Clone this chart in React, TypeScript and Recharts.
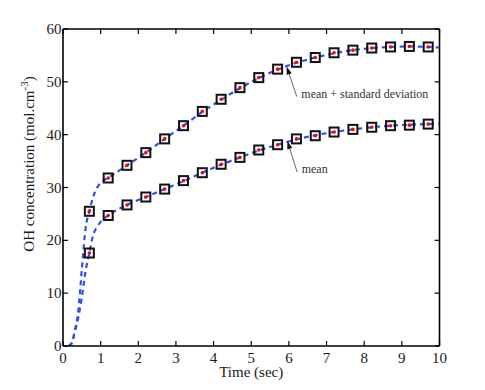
import React from 'react';
import { ComposedChart, Line, Scatter, XAxis, YAxis, ReferenceLine } from 'recharts';

// fitted curves (dashed)
const curveTime = [0.15, 0.25, 0.3, 0.4, 0.5, 0.6, 0.7, 0.8, 0.9, 1.0, 1.2, 1.7, 2.2, 2.7, 3.2, 3.7, 4.2, 4.7, 5.2, 5.7, 6.2, 6.7, 7.2, 7.7, 8.2, 8.7, 9.2, 9.7, 10];
const upperCurve = [0, 0.8, 2.5, 6.2, 14.5, 22.3, 25.5, 28.2, 29.9, 30.9, 31.8, 34.2, 36.6, 39.2, 41.7, 44.3, 46.6, 48.8, 50.7, 52.3, 53.6, 54.6, 55.4, 56.0, 56.4, 56.6, 56.7, 56.6, 56.5];
const meanCurve = [0, 0.7, 2.3, 5.2, 9.2, 14.2, 17.6, 21.0, 22.5, 23.5, 24.7, 26.7, 28.2, 29.7, 31.2, 32.8, 34.3, 35.7, 37.0, 38.1, 39.1, 39.9, 40.5, 41.0, 41.4, 41.7, 41.9, 42.0, 42.1];

// measured points (squares + red dots)
const markerTime = [0.7, 1.2, 1.7, 2.2, 2.7, 3.2, 3.7, 4.2, 4.7, 5.2, 5.7, 6.2, 6.7, 7.2, 7.7, 8.2, 8.7, 9.2, 9.7];
const upperMarkers = [25.5, 31.8, 34.2, 36.6, 39.2, 41.7, 44.4, 46.7, 48.9, 50.8, 52.4, 53.7, 54.6, 55.5, 56.0, 56.4, 56.6, 56.7, 56.6];
const meanMarkers = [17.6, 24.7, 26.7, 28.2, 29.7, 31.3, 32.8, 34.4, 35.7, 37.1, 38.1, 39.2, 39.8, 40.5, 41.0, 41.4, 41.7, 41.8, 42.0];

const xTicks = [0, 1, 2, 3, 4, 5, 6, 7, 8, 9, 10];
const yTicks = [0, 10, 20, 30, 40, 50, 60];

// annotations: tail -> arrow head, in data units
const noteLabels = ['mean + standard deviation', 'mean'];
const noteTail = [{ x: 6.21, y: 47.2 }, { x: 6.22, y: 32.9 }];
const noteHead = [{ x: 5.94, y: 52.9 }, { x: 5.96, y: 38.8 }];

const FONT = '"Liberation Serif", "Times New Roman", serif';
const BLUE = '#2d4cf5';
const X_MAX = 10;
const Y_MAX = 60;
// inward tick length expressed in axis units (~5px)
const X_TICK_LEN = 0.13;
const Y_TICK_LEN = 0.95;

const toRows = (xs: number[], ys: number[]) => xs.map((t, i) => ({ t, v: ys[i] }));

const upperCurveData = toRows(curveTime, upperCurve);
const meanCurveData = toRows(curveTime, meanCurve);
const upperMarkerData = toRows(markerTime, upperMarkers);
const meanMarkerData = toRows(markerTime, meanMarkers);

const SquareDot = (props: any) => {
  const { cx, cy } = props;
  if (cx == null || cy == null) return <g />;
  return (
    <g>
      <rect x={cx - 4.5} y={cy - 4.5} width={9} height={9} fill="none" stroke="#111" strokeWidth={2} />
      <circle cx={cx} cy={cy} r={1.8} fill="#ff0000" />
    </g>
  );
};

const makeArrow = (label: string) => (props: any) => {
  const { x1, y1, x2, y2 } = props;
  const dx = x2 - x1;
  const dy = y2 - y1;
  const len = Math.sqrt(dx * dx + dy * dy) || 1;
  const ux = dx / len;
  const uy = dy / len;
  const bx = x2 - ux * 8;
  const by = y2 - uy * 8;
  const head = `${x2},${y2} ${bx - uy * 2.6},${by + ux * 2.6} ${bx + uy * 2.6},${by - ux * 2.6}`;
  return (
    <g>
      <line x1={x1} y1={y1} x2={bx} y2={by} stroke="#555" strokeWidth={0.9} />
      <polygon points={head} fill="#111" />
      <text x={x1 + 4.5} y={y1 + 1} fontSize={12} fontFamily={FONT} fill="#333">
        {label}
      </text>
    </g>
  );
};

const XTick = (props: any) => (
  <text x={props.x} y={props.y + 16.7} textAnchor="middle" fontSize={15} fontFamily={FONT} fill="#1a1a1a">
    {props.payload.value}
  </text>
);

const YTick = (props: any) => (
  <text x={props.x} y={props.y + 5} textAnchor="end" fontSize={15} fontFamily={FONT} fill="#1a1a1a">
    {props.payload.value}
  </text>
);

const XLabel = (props: any) => {
  const { viewBox } = props;
  return (
    <text x={viewBox.x + viewBox.width / 2} y={viewBox.y + 30.5} textAnchor="middle" fontSize={15} fontFamily={FONT} fill="#1a1a1a">
      Time (sec)
    </text>
  );
};

const YLabel = (props: any) => {
  const { viewBox } = props;
  const x = viewBox.x + 34;
  const y = viewBox.y + viewBox.height / 2 - 23.5;
  return (
    <text x={x} y={y} transform={`rotate(-90, ${x}, ${y})`} textAnchor="middle" fontSize={15} fontFamily={FONT} fill="#1a1a1a">
      OH concentration (mol.cm
      <tspan dy={-6} fontSize={11}>-3</tspan>
      <tspan dy={6}>)</tspan>
    </text>
  );
};

const axisLineStyle = { stroke: '#000', strokeWidth: 1.6 };
const frame = { stroke: '#000', strokeWidth: 1.6 };
const tickMark = { stroke: '#000', strokeWidth: 1.2 };

export default function App() {
  return (
    <div style={{ position: 'absolute', left: 0, top: 0, width: 485, height: 390, background: '#fff', fontFamily: FONT }}>
      <ComposedChart width={485} height={390} margin={{ top: 29, right: 45.5, bottom: 0, left: 0 }} style={{ fontFamily: FONT }}>
        <XAxis
          dataKey="t"
          type="number"
          domain={[0, X_MAX]}
          ticks={xTicks}
          interval={0}
          height={44}
          tickSize={0}
          tickMargin={0}
          tick={XTick}
          axisLine={axisLineStyle}
          tickLine={false}
          label={XLabel}
          allowDataOverflow
        />
        <YAxis
          type="number"
          domain={[0, Y_MAX]}
          ticks={yTicks}
          interval={0}
          width={63}
          tickSize={0}
          tickMargin={1.5}
          tick={YTick}
          axisLine={axisLineStyle}
          tickLine={false}
          label={YLabel}
          allowDataOverflow
        />
        {/* box: top and right borders */}
        <ReferenceLine y={Y_MAX} ifOverflow="visible" {...frame} />
        <ReferenceLine x={X_MAX} ifOverflow="visible" {...frame} />
        {/* inward ticks on all four sides */}
        {xTicks.map((t) => (
          <ReferenceLine key={`xb${t}`} segment={[{ x: t, y: 0 }, { x: t, y: Y_TICK_LEN }]} ifOverflow="visible" {...tickMark} />
        ))}
        {xTicks.map((t) => (
          <ReferenceLine key={`xt${t}`} segment={[{ x: t, y: Y_MAX }, { x: t, y: Y_MAX - Y_TICK_LEN }]} ifOverflow="visible" {...tickMark} />
        ))}
        {yTicks.map((v) => (
          <ReferenceLine key={`yl${v}`} segment={[{ x: 0, y: v }, { x: X_TICK_LEN, y: v }]} ifOverflow="visible" {...tickMark} />
        ))}
        {yTicks.map((v) => (
          <ReferenceLine key={`yr${v}`} segment={[{ x: X_MAX, y: v }, { x: X_MAX - X_TICK_LEN, y: v }]} ifOverflow="visible" {...tickMark} />
        ))}
        <Line data={upperCurveData} dataKey="v" type="monotone" stroke={BLUE} strokeWidth={2.2} strokeDasharray="5 4" dot={false} activeDot={false} isAnimationActive={false} />
        <Line data={meanCurveData} dataKey="v" type="monotone" stroke={BLUE} strokeWidth={2.2} strokeDasharray="5 4" dot={false} activeDot={false} isAnimationActive={false} />
        <Scatter data={upperMarkerData} dataKey="v" shape={SquareDot} isAnimationActive={false} />
        <Scatter data={meanMarkerData} dataKey="v" shape={SquareDot} isAnimationActive={false} />
        {noteLabels.map((label, i) => (
          <ReferenceLine key={label} segment={[noteTail[i], noteHead[i]]} ifOverflow="visible" shape={makeArrow(label)} />
        ))}
      </ComposedChart>
    </div>
  );
}
